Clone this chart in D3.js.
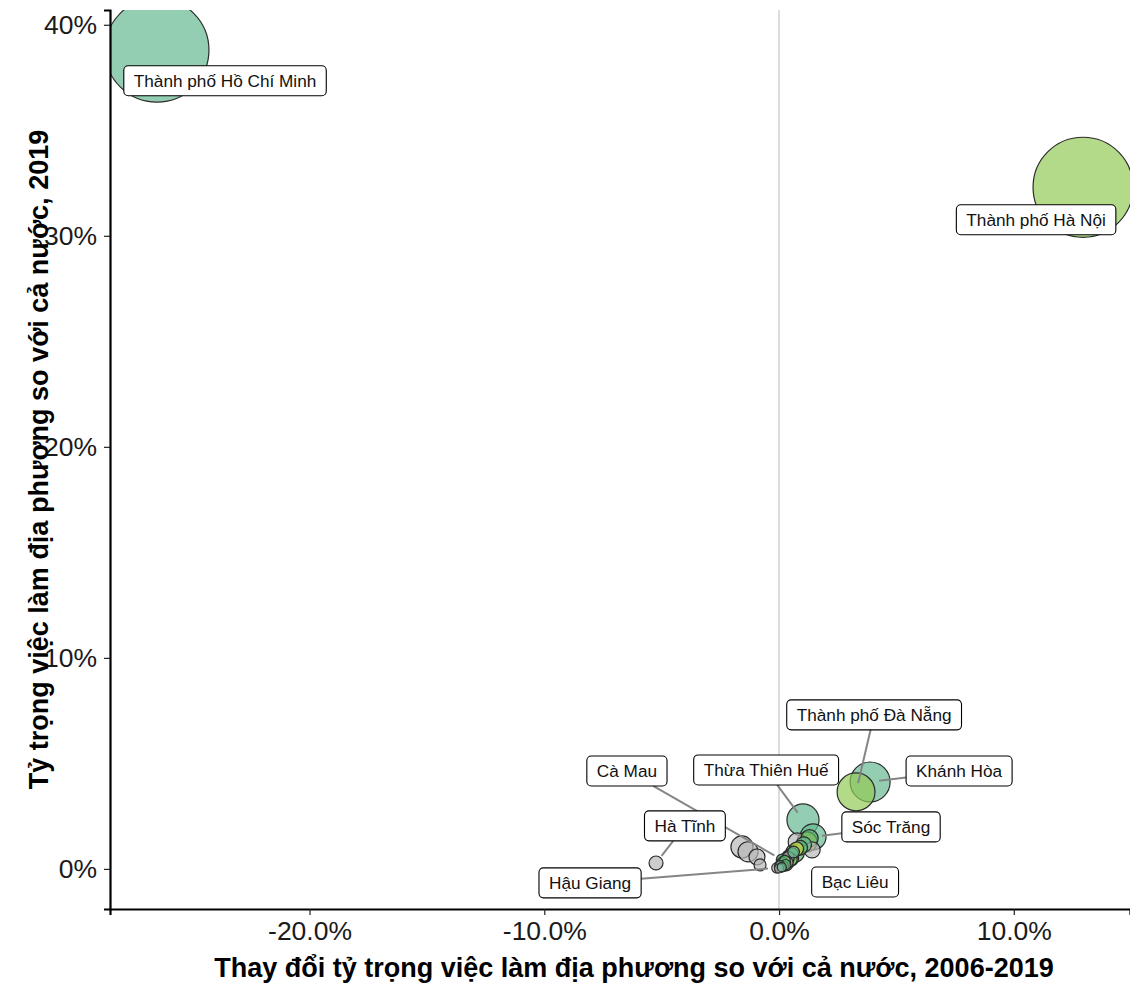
<!DOCTYPE html>
<html>
<head>
<meta charset="utf-8">
<script src="https://cdn.jsdelivr.net/npm/d3@7"></script>
<style>
  html, body { margin: 0; padding: 0; background: #fff; }
  svg { display: block; font-family: "Liberation Sans", Arial, Helvetica, sans-serif; }
</style>
</head>
<body>
<svg id="chart" width="1130" height="983"></svg>
<script>
// Provinces: change in local employment share 2006-2019 (x, %), share in 2019 (y, %),
// bubble size value and colour group. Only some provinces carry a name label.
const names = [
  "Thành phố Hồ Chí Minh", "Thành phố Hà Nội", "Thành phố Đà Nẵng", "Khánh Hòa",
  "Thừa Thiên Huế", "Sóc Trăng", "", "", "", "", "", "",
  "Hà Tĩnh", "", "", "", "", "Cà Mau", "Hậu Giang", "Bạc Liêu",
  "", "", "", "", "", "", "", "", "", "", "", "", "", "", "", "", "", "", "", "", ""
];
const changeShare = [
  -26.5, 12.95, 3.28, 3.88,
  1.02, 1.45, 1.19, 0.77, 1.41, 0.68, 0.47, 0.30,
  -5.24, -1.58, -1.32, -0.94, -0.81, 0.13, -0.09, 0.38,
  0.02, 0.05, 0.10, 0.15, 0.20, 0.25, 0.33, 0.40, 0.55, 0.62, 0.90, 1.05,
  0.08, 0.18, 0.28, 0.00, 0.12, 0.35, 0.50, 0.75, 1.30
];
const share2019 = [
  38.8, 32.3, 3.65, 4.12,
  2.32, 1.52, 1.28, 1.28, 0.90, 0.76, 0.52, 0.24,
  0.28, 1.04, 0.81, 0.57, 0.19, 0.43, 0.05, 0.43,
  0.10, 0.18, 0.22, 0.30, 0.33, 0.38, 0.50, 0.55, 0.70, 0.80, 1.00, 1.15,
  0.05, 0.12, 0.20, 0.02, 0.08, 0.30, 0.45, 0.95, 1.45
];
const bubbleSize = [
  40, 37, 5.3, 5.9,
  3.8, 2.5, 1.5, 1.2, 0.95, 1.3, 1.1, 0.72,
  0.72, 1.8, 1.5, 0.95, 0.53, 0.5, 0.4, 0.5,
  0.4, 0.3, 0.5, 0.45, 0.6, 0.45, 0.6, 0.5, 0.6, 0.5, 0.8, 0.9,
  0.3, 0.4, 0.4, 0.3, 0.3, 0.5, 0.6, 0.7, 1.1
];
const group = [
  "A", "B", "B", "A",
  "A", "A", "D", "E", "E", "C", "C", "E",
  "E", "E", "E", "E", "E", "C", "E", "A",
  "E", "C", "E", "A", "E", "C", "A", "E", "C", "A", "C", "A",
  "E", "E", "C", "E", "A", "E", "B", "D", "C"
];

const xTicks = [-20, -10, 0, 10];
const yTicks = [0, 10, 20, 30, 40];
const xTitle = "Thay đổi tỷ trọng việc làm địa phương so với cả nước, 2006-2019";
const yTitle = "Tỷ trọng việc làm địa phương so với cả nước, 2019";

// Label placement (label centre in data units) and whether a leader line is drawn.
const labelPlacement = {
  "Thành phố Hồ Chí Minh": { x: -23.6, y: 37.35, line: false },
  "Thành phố Hà Nội":      { x: 10.95, y: 30.76, line: false },
  "Thành phố Đà Nẵng":     { x: 4.05,  y: 7.30,  line: true },
  "Khánh Hòa":             { x: 7.67,  y: 4.64,  line: true },
  "Thừa Thiên Huế":        { x: -0.55, y: 4.69,  line: true },
  "Cà Mau":                { x: -6.48, y: 4.64,  line: true },
  "Hà Tĩnh":               { x: -4.01, y: 2.04,  line: true },
  "Sóc Trăng":             { x: 4.77,  y: 1.99,  line: true },
  "Hậu Giang":             { x: -8.05, y: -0.66, line: true },
  "Bạc Liêu":              { x: 3.24,  y: -0.62, line: false }
};

const groupColor = {
  A: "#65b991",
  B: "#92ca55",
  C: "#5bb56e",
  D: "#cdd63c",
  E: "#b8b8b8"
};

const data = names.map((n, i) => ({
  name: n, x: changeShare[i], y: share2019[i], s: bubbleSize[i], g: group[i]
}));

const W = 1130, H = 983;
const margin = { top: 10, right: 0, bottom: 74, left: 110 };
const svg = d3.select("#chart");

const x = d3.scaleLinear().domain([-28.5, 14.95]).range([margin.left, W - margin.right]);
const y = d3.scaleLinear().domain([-1.9, 40.7]).range([H - margin.bottom, margin.top]);
const r = d3.scaleSqrt().domain([0, 40]).range([0, 52]);

svg.append("defs").append("clipPath").attr("id", "panel")
  .append("rect")
  .attr("x", margin.left).attr("y", margin.top)
  .attr("width", W - margin.left - margin.right)
  .attr("height", H - margin.top - margin.bottom);

// Reference line at zero change
svg.append("line")
  .attr("x1", x(0)).attr("x2", x(0))
  .attr("y1", margin.top).attr("y2", H - margin.bottom)
  .attr("stroke", "#c6c6c6").attr("stroke-width", 1.2);

// Bubbles, largest first so the small ones stay visible
const plot = svg.append("g").attr("clip-path", "url(#panel)");
plot.selectAll("circle")
  .data(data.slice().sort((a, b) => b.s - a.s))
  .join("circle")
  .attr("cx", d => x(d.x))
  .attr("cy", d => y(d.y))
  .attr("r", d => r(d.s))
  .attr("fill", d => groupColor[d.g])
  .attr("fill-opacity", 0.7)
  .attr("stroke", "#2b2b2b")
  .attr("stroke-width", 1.2);

// Axes
const xAxis = svg.append("g")
  .attr("transform", `translate(0,${H - margin.bottom})`)
  .call(d3.axisBottom(x).tickValues(xTicks).tickSize(6).tickPadding(6)
    .tickFormat(d => d.toFixed(1) + "%"));
const yAxis = svg.append("g")
  .attr("transform", `translate(${margin.left},0)`)
  .call(d3.axisLeft(y).tickValues(yTicks).tickSize(6).tickPadding(7)
    .tickFormat(d => d + "%"));

[xAxis, yAxis].forEach(ax => {
  ax.select(".domain").attr("stroke", "#000").attr("stroke-width", 2.2);
  ax.selectAll(".tick line").attr("stroke", "#222").attr("stroke-width", 1.2);
  ax.selectAll(".tick text")
    .attr("fill", "#1a1a1a")
    .style("font-size", "26.5px")
    .style("font-family", "'Liberation Sans', Arial, sans-serif");
});
xAxis.selectAll(".tick text").attr("dy", "0.72em");

// Axis titles
svg.append("text")
  .attr("x", 634)
  .attr("y", 977)
  .attr("text-anchor", "middle")
  .style("font-size", "27px").style("font-weight", "bold")
  .attr("fill", "#000")
  .text(xTitle);

svg.append("text")
  .attr("transform", `translate(48,${(margin.top + H - margin.bottom) / 2}) rotate(-90)`)
  .attr("text-anchor", "middle")
  .style("font-size", "27px").style("font-weight", "bold")
  .attr("fill", "#000")
  .text(yTitle);

// Labels with leader lines
const labelled = data.filter(d => d.name && labelPlacement[d.name]);
const labelLayer = svg.append("g");
const boxes = labelled.map(d => {
  const p = labelPlacement[d.name];
  const g = labelLayer.append("g");
  const t = g.append("text")
    .attr("x", x(p.x)).attr("y", y(p.y))
    .attr("text-anchor", "middle")
    .attr("dominant-baseline", "central")
    .style("font-size", "17.2px")
    .attr("fill", "#111")
    .text(d.name);
  const w = t.node().getComputedTextLength() + 20;
  const h = 30;
  return { d, p, g, t, w, h, cx: x(p.x), cy: y(p.y) };
});

boxes.forEach(b => {
  if (!b.p.line) return;
  const px = x(b.d.x), py = y(b.d.y);
  const dx = px - b.cx, dy = py - b.cy;
  const len = Math.hypot(dx, dy);
  const t = Math.min(Math.abs(dx) > 0 ? (b.w / 2) / Math.abs(dx) : Infinity,
                     Math.abs(dy) > 0 ? (b.h / 2) / Math.abs(dy) : Infinity);
  const sx = b.cx + dx * t, sy = b.cy + dy * t;
  const pad = 9;
  const ex = px - dx / len * pad, ey = py - dy / len * pad;
  labelLayer.insert("line", ":first-child")
    .attr("x1", sx).attr("y1", sy).attr("x2", ex).attr("y2", ey)
    .attr("stroke", "#858585").attr("stroke-width", 2);
});

boxes.forEach(b => {
  b.g.insert("rect", "text")
    .attr("x", b.cx - b.w / 2).attr("y", b.cy - b.h / 2)
    .attr("width", b.w).attr("height", b.h)
    .attr("rx", 4.5).attr("ry", 4.5)
    .attr("fill", "#fff")
    .attr("stroke", "#000").attr("stroke-width", 1.1);
});
</script>
</body>
</html>
